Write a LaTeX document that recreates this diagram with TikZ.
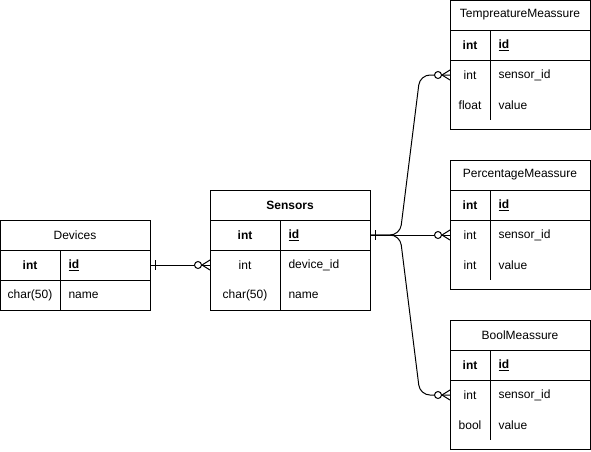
\documentclass[tikz,border=0pt]{standalone}
\usepackage{fontspec}
\setmainfont{Liberation Sans}
\usetikzlibrary{calc}
\def\onebar(#1){\draw ($(#1)+(5,-5)$) -- ($(#1)+(5,5)$);}
\def\zeromany(#1){\draw[fill=white] ($(#1)+(-12,0)$) circle (3.5);
  \draw ($(#1)+(0,-5)$) -- ($(#1)+(-8,0)$) -- ($(#1)+(0,5)$);}

\begin{document}
\begin{tikzpicture}[x=1pt,y=-1pt,line width=1pt,
  lbl/.style={inner sep=0pt,font=\fontsize{12}{14}\selectfont},
  fld/.style={lbl,anchor=west},
  row/.style={inner sep=0pt,outer sep=0pt,minimum height=30pt,anchor=north west}]
\useasboundingbox (0,0) rectangle (591,451);

% Devices
\draw (0.5,220) rectangle (150,310);
\draw (0.5,250) -- (150,250) (0.5,280) -- (150,280) (60,250) -- (60,310);
\node[lbl] (devhdr) at (75,235) {Devices};
\node[row,minimum width=149.5pt] (devid) at (0.5,250) {};
\node[row,minimum width=149.5pt] (devnm) at (0.5,280) {};
\node[lbl] (devidt) at (30,265) {\bfseries int};
\node[fld] (devidf) at (68,265) {\bfseries\underline{id}};
\node[lbl] (devnmt) at (30,295) {char(50)};
\node[fld] (devnmf) at (68,295) {name};

% Sensors
\draw (210,190) rectangle (370,310);
\draw (210,220) -- (370,220) (210,250) -- (370,250) (280,220) -- (280,310);
\node[lbl] (senhdr) at (290,205) {\bfseries Sensors};
\node[row,minimum width=160pt] (senid) at (210,220) {};
\node[row,minimum width=160pt] (sendev) at (210,250) {};
\node[row,minimum width=160pt] (sennm) at (210,280) {};
\node[lbl] (senidt) at (245,235) {\bfseries int};
\node[fld] (senidf) at (288,235) {\bfseries\underline{id}};
\node[lbl] (sendevt) at (245,265) {int};
\node[fld] (sendevf) at (288,265) {device\_id};
\node[lbl] (sennmt) at (245,295) {char(50)};
\node[fld] (sennmf) at (288,295) {name};

% measure tables
\foreach \tb/\ttl/\y/\vt in {tmp/TempreatureMeassure/0/float,
    pct/PercentageMeassure/160/int, bol/BoolMeassure/320/bool} {
  \draw (450,\y+0.5) rectangle (590.5,\y+129.5);
  \draw (450,\y+30) -- (590.5,\y+30) (450,\y+60) -- (590.5,\y+60) (490,\y+30) -- (490,\y+120);
  \node[lbl] (\tb-hdr) at (520,\y+15) {\ttl};
  \node[row,minimum width=140pt] (\tb-id) at (450,\y+30) {};
  \node[row,minimum width=140pt] (\tb-sid) at (450,\y+60) {};
  \node[row,minimum width=140pt] (\tb-val) at (450,\y+90) {};
  \node[lbl] (\tb-idt) at (470,\y+45) {\bfseries int};
  \node[fld] (\tb-idf) at (498,\y+45) {\bfseries\underline{id}};
  \node[lbl] (\tb-sidt) at (470,\y+75) {int};
  \node[fld] (\tb-sidf) at (498,\y+75) {sensor\_id};
  \node[lbl] (\tb-valt) at (470,\y+105) {\vt};
  \node[fld] (\tb-valf) at (498,\y+105) {value};
}

% relations
\draw (devid.east) -- (sendev.west);
\onebar(devid.east)
\zeromany(sendev.west)

\draw[rounded corners=10pt] (senid.east) -- ++(30,0) -- ($(tmp-sid.west)+(-30,0)$) -- (tmp-sid.west);
\draw (senid.east) -- (pct-sid.west);
\draw[rounded corners=10pt] (senid.east) -- ++(30,0) -- ($(bol-sid.west)+(-30,0)$) -- (bol-sid.west);
\onebar(senid.east)
\zeromany(tmp-sid.west)
\zeromany(pct-sid.west)
\zeromany(bol-sid.west)
\end{tikzpicture}
\end{document}
